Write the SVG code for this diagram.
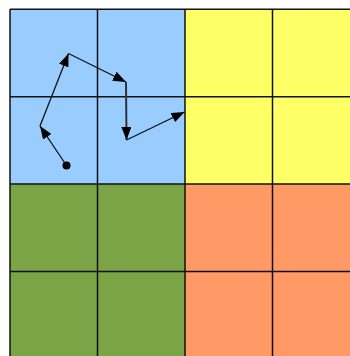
<svg xmlns="http://www.w3.org/2000/svg" width="350" height="356" viewBox="0 0 350 356">
<defs>
<style>
.grid{stroke:#111;stroke-width:1.5;fill:none}
.path{stroke:#111;stroke-width:1.3;fill:none;marker-end:url(#ah)}
</style>
<marker id="ah" markerUnits="userSpaceOnUse" markerWidth="14" markerHeight="10" refX="13" refY="5" orient="auto">
<path d="M0,0 L13,5 L0,10 Z" fill="#000"/>
</marker>
</defs>
<rect width="350" height="356" fill="#fff"/>
<g id="quadrants">
<rect x="10" y="9.3" width="175" height="174.8" fill="#99CCFF"/>
<rect x="185" y="9.3" width="175" height="174.8" fill="#FFFF66"/>
<rect x="10" y="184.1" width="175" height="180" fill="#7AA446"/>
<rect x="185" y="184.1" width="175" height="180" fill="#FF9966"/>
</g>
<g id="grid" class="grid">
<line x1="10" y1="9.3" x2="10" y2="356"/>
<line x1="97.5" y1="9.3" x2="97.5" y2="356"/>
<line x1="185" y1="9.3" x2="185" y2="356"/>
<line x1="272.5" y1="9.3" x2="272.5" y2="356"/>
<line x1="10" y1="9.3" x2="350" y2="9.3"/>
<line x1="10" y1="96.7" x2="350" y2="96.7"/>
<line x1="10" y1="184.1" x2="350" y2="184.1"/>
<line x1="10" y1="271.5" x2="350" y2="271.5"/>
</g>
<g id="start"><circle cx="66.5" cy="165.5" r="4" fill="#000"/></g>
<g id="connectors">
<line class="path" x1="66.5" y1="165.5" x2="40" y2="126"/>
<line class="path" x1="40" y1="126" x2="68.5" y2="53.5"/>
<line class="path" x1="68.5" y1="53.5" x2="126" y2="82"/>
<line class="path" x1="126" y1="82" x2="126.5" y2="140" style="stroke:#333;stroke-width:2"/>
<line class="path" x1="126.5" y1="140" x2="184.5" y2="112"/>
</g>
</svg>
